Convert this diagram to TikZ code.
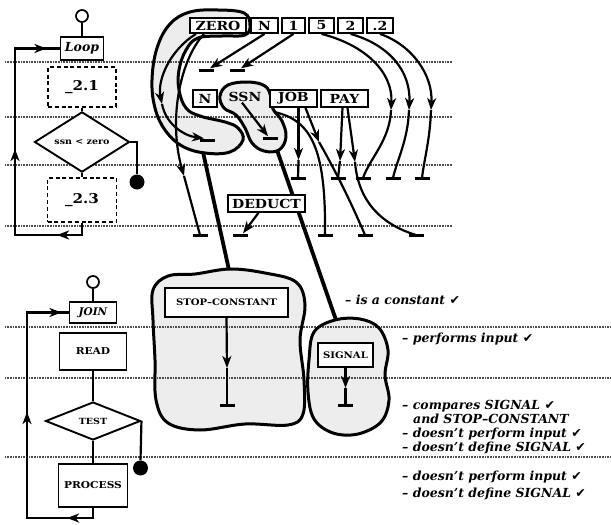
\documentclass[tikz,border=0pt]{standalone}
\usepackage{fontspec}
\setmainfont{DejaVu Serif}
\newfontfamily\wfont{DejaVu Serif}[FakeStretch=1.12]
\newfontfamily\chkfont{DejaVu Sans}
\usetikzlibrary{arrows.meta,shapes.geometric,decorations.markings}
\begin{document}
\begin{tikzpicture}[x=1pt,y=-1pt,
  >={Stealth[length=12pt,width=9pt,inset=3.5pt]},
  lvl/.style={draw=black!70,line width=1.8pt,dash pattern=on 1pt off 0.6pt},
  con/.style={line width=2.2pt},
  thk/.style={line width=3.8pt},
  bfill/.style={fill=black!7},
  bline/.style={draw,line width=3pt},
  rec/.style={draw,line width=1.8pt,fill=white,inner sep=0pt,font=\wfont\bfseries\fontsize{12.5}{13}\selectfont},
  fbox/.style={draw,line width=1.9pt,fill=white,inner sep=0pt},
  dbox/.style={fbox,dash pattern=on 4pt off 2.8pt},
  dia/.style={diamond,draw,line width=1.9pt,fill=white,inner sep=0pt},
  ring/.style={circle,draw,line width=1.7pt,minimum size=12pt,inner sep=0pt},
  bdot/.style={circle,fill=black,minimum size=15pt,inner sep=0pt},
  tee/.style={rectangle,fill=black,minimum width=15pt,minimum height=3pt,inner sep=0pt},
  amk/.style={postaction={decorate,decoration={markings,mark=at position #1 with {\arrow{>}}}}},
  ann/.style={anchor=west,inner sep=0pt,font=\bfseries\itshape\fontsize{12.5}{13}\selectfont},
]
\useasboundingbox (0,0) rectangle (611,525);
\def\zeroblob{plot[smooth cycle,tension=0.65] coordinates {(250,25) (244,13) (218,10) (190,12) (170,24) (157,48) (152,80) (155,108) (165,130) (182,146) (205,153) (230,152) (243,140) (238,128) (225,122) (200,116) (186,108) (179,90) (179,70) (186,50) (198,38) (222,36) (245,35)}}
\def\ssnblob{plot[smooth cycle,tension=0.65] coordinates {(220,96) (228,85) (248,82) (265,86) (271,97) (273,109) (282,121) (286,137) (279,150) (264,151) (252,143) (245,128) (236,115) (224,108)}}
\def\stopblob{plot[smooth cycle,tension=0.6] coordinates {(153,290) (168,276) (195,274) (230,269) (265,273) (296,282) (305,305) (300,340) (304,380) (303,414) (288,425) (245,424) (200,430) (168,423) (156,400) (155,360) (153,320)}}
\def\sigblob{plot[smooth cycle,tension=0.6] coordinates {(309,360) (314,332) (335,320) (360,319) (379,328) (388,350) (385,375) (389,400) (381,422) (358,434) (333,433) (314,419) (308,392)}}
% blob fills
\fill[bfill] \zeroblob;
\fill[bfill] \ssnblob;
\fill[bfill] \stopblob;
\fill[bfill] \sigblob;
% level lines
\foreach \yy in {62,117,165,226} \draw[lvl] (5,\yy) -- (452,\yy);
\foreach \yy in {327,378,457} \draw[lvl] (5,\yy) -- (611,\yy);
% blob outlines
\draw[bline] \zeroblob;
\draw[bline] \ssnblob;
\draw[bline] \stopblob;
\draw[bline] \sigblob;
% thick links
\coordinate (zb) at (203,152); \coordinate (scT) at (229,270);
\coordinate (sb) at (277,150); \coordinate (sgT) at (336,320);
\draw[thk] (zb) -- (scT);
\draw[thk] (sb) -- (sgT);

% ---------- top-left flowchart
\node[ring] (c1) at (82,16) {};
\node[fbox,minimum width=43pt,minimum height=23pt,font=\bfseries\itshape\fontsize{12.5}{13}\selectfont] (loop) at (82,48.5) {Loop};
\node[dbox,minimum width=68pt,minimum height=40pt,font=\wfont\bfseries\fontsize{13.5}{14}\selectfont] (b21) at (82,87) {\_2.1};
\node[dia,minimum width=95pt,minimum height=40pt,font=\wfont\bfseries\fontsize{8.5}{9}\selectfont] (d1) at (82,142) {ssn < zero};
\node[bdot] (k1) at (137,182) {};
\node[dbox,minimum width=69pt,minimum height=44pt,font=\wfont\bfseries\fontsize{13.5}{14}\selectfont] (b23) at (82,200) {\_2.3};
\coordinate (lt1) at (82,235); \coordinate (lt2) at (15,235); \coordinate (lt3) at (15,48.5);
\draw[con] (c1) -- (loop);
\draw[con] (b21) -- (d1);
\draw[con] (d1) -- (b23);
\draw[con] (d1.east) -| (k1.north);
\draw[con,amk=37pt,amk=165pt,amk=297pt] (b23.south) -- (lt1) -- (lt2) -- (lt3) -- (loop.west);

% ---------- bottom-left flowchart
\node[ring] (c2) at (93,282) {};
\node[fbox,minimum width=47pt,minimum height=21pt,font=\bfseries\itshape\fontsize{10.5}{11}\selectfont] (join) at (93,312.5) {JOIN};
\node[fbox,minimum width=67pt,minimum height=37pt,font=\wfont\bfseries\fontsize{9.5}{10}\selectfont] (read) at (93,351.5) {READ};
\node[dia,minimum width=95pt,minimum height=38pt,font=\wfont\bfseries\fontsize{8.5}{9}\selectfont] (d2) at (93,421) {TEST};
\node[bdot] (k2) at (140.5,468) {};
\node[fbox,minimum width=69pt,minimum height=43pt,font=\wfont\bfseries\fontsize{9.5}{10}\selectfont] (proc) at (93,485.5) {PROCESS};
\coordinate (lb1) at (93,518); \coordinate (lb2) at (27,518); \coordinate (lb3) at (27,312.5);
\draw[con] (c2) -- (join);
\draw[con] (read) -- (d2);
\draw[con] (d2) -- (proc);
\draw[con] (d2.east) -- (k2.north);
\draw[con,amk=36pt,amk=182pt,amk=316pt] (proc.south) -- (lb1) -- (lb2) -- (lb3) -- (join.west);

% ---------- records
\node[rec,minimum width=56pt,minimum height=15pt] (rZ) at (218,25.5) {ZERO};
\node[rec,minimum width=27pt,minimum height=15pt] (rN) at (264.5,25.5) {N};
\node[rec,minimum width=23pt,minimum height=15pt] (r1) at (293.5,25.5) {1};
\node[rec,minimum width=25pt,minimum height=15pt] (r5) at (321.5,25.5) {5};
\node[rec,minimum width=25pt,minimum height=15pt] (r2) at (350.5,25.5) {2};
\node[rec,minimum width=26pt,minimum height=15pt] (r02) at (380,25.5) {.2};
\node[rec,minimum width=24pt,minimum height=17pt] (qN) at (205,98.5) {N};
\node[rec,draw=none,fill=none] (qS) at (245,97) {SSN};
\node[rec,minimum width=47pt,minimum height=17pt] (qJ) at (293.5,98.5) {JOB};
\node[rec,minimum width=47pt,minimum height=17pt] (qP) at (344.5,98.5) {PAY};
\node[rec,minimum width=77pt,minimum height=17pt] (ded) at (266.5,203.5) {DEDUCT};
\node[rec,minimum width=123pt,minimum height=29pt,font=\wfont\bfseries\fontsize{9}{10}\selectfont] (sc) at (226.5,302.5) {STOP–CONSTANT};
\node[rec,minimum width=55pt,minimum height=24pt,font=\wfont\bfseries\fontsize{9}{10}\selectfont] (sg) at (345.5,355) {SIGNAL};

% ---------- tees
\node[tee] (tA1) at (206,70) {};
\node[tee] (tA2) at (237,70) {};
\node[tee] (tZ) at (207,140) {};
\node[tee] (tS) at (270,138) {};
\node[tee] (tB1) at (298,178) {};
\node[tee] (tB2) at (338,178) {};
\node[tee] (tB3) at (363,178) {};
\node[tee] (tB4) at (393,178) {};
\node[tee] (tB5) at (422,178) {};
\node[tee] (tC1) at (200,235) {};
\node[tee] (tC2) at (240,235) {};
\node[tee] (tC3) at (325,235) {};
\node[tee] (tC4) at (365,235) {};
\node[tee] (tC5) at (416,235) {};
\node[tee] (tSC) at (227,405) {};
\node[tee] (tSG) at (345.5,405) {};

% ---------- connectors
\draw[con,->] (rN.south) -- ([xshift=4pt]tA1.north);
\draw[con,->] (r1.south) -- ([xshift=4pt]tA2.north);
\coordinate (a5) at (391,110); \coordinate (a2) at (409,110); \coordinate (a02) at (431,110);
\draw[con,->] (r5.south) .. controls (365,45) and (393,72) .. (a5);
\draw[con] (a5) .. controls (390,140) and (370,158) .. (tB3.center);
\draw[con,->] (r2.south) .. controls (390,45) and (411,72) .. (a2);
\draw[con] (a2) .. controls (408,140) and (397,160) .. (tB4.center);
\draw[con,->] (r02.south) .. controls (412,45) and (433,75) .. (a02);
\draw[con] (a02) .. controls (430,140) and (424,160) .. (tB5.center);
\coordinate (aJ) at (298.5,160);
\draw[con,->] ([xshift=5pt]qJ.south) -- (aJ);
\draw[con] (aJ) -- (tB1.center);
\coordinate (aP1) at (340,161); \coordinate (aP2) at (355,162);
\draw[con,->] ([xshift=-2pt]qP.south) -- (aP1);
\draw[con] (aP1) -- (tB2.center);
\draw[con,->] ([xshift=3pt]qP.south) -- (aP2);
\draw[con] (aP2) .. controls (358,200) and (380,224) .. (tC5.center);
\coordinate (aJ2) at (319,142);
\draw[con,->] ([xshift=12pt]qJ.south) -- (aJ2);
\draw[con] (aJ2) .. controls (335,170) and (350,200) .. (tC4.center);
\coordinate (sO) at (274,112);
\draw[con] (sO) .. controls (312,120) and (326,150) .. (tC3.center);
\draw[con,->] ([xshift=-8pt]ded.south) -- ([xshift=3pt]tC2.north);
\coordinate (aZ1) at (162,104);
\draw[con,->] ([xshift=-22pt]rZ.south) .. controls (170,50) and (157,80) .. (aZ1);
\draw[con,->] (aZ1) .. controls (166,125) and (185,136) .. ([xshift=-3pt]tZ.north);
\coordinate (aZ2) at (184,176);
\draw[con,->] ([xshift=-14pt]rZ.south) .. controls (180,60) and (168,120) .. (aZ2);
\draw[con] (aZ2) -- (tC1.center);
\draw[con,->] ([xshift=-3pt]qS.south) -- ([xshift=-2pt]tS.north);
\coordinate (aSC) at (227,368);
\draw[con,->] (sc.south) -- (aSC);
\draw[con] (aSC) -- (tSC.center);
\coordinate (aSG) at (345.5,388);
\draw[con,->] (sg.south) -- (aSG);
\draw[con] (aSG) -- (tSG.center);

% ---------- annotations
\newcommand\ck{{\chkfont ✔}}
\node[ann] (n1) at (345,300) {– is a constant \ck};
\node[ann] (n2) at (402,339) {– performs input \ck};
\node[ann] (n3) at (402,406) {– compares SIGNAL \ck};
\node[ann] (n4) at (413,419) {and STOP–CONSTANT};
\node[ann] (n5) at (402,434) {– doesn't perform input \ck};
\node[ann] (n6) at (402,448) {– doesn't define SIGNAL \ck};
\node[ann] (n7) at (402,477) {– doesn't perform input \ck};
\node[ann] (n8) at (402,494) {– doesn't define SIGNAL \ck};
\end{tikzpicture}
\end{document}
